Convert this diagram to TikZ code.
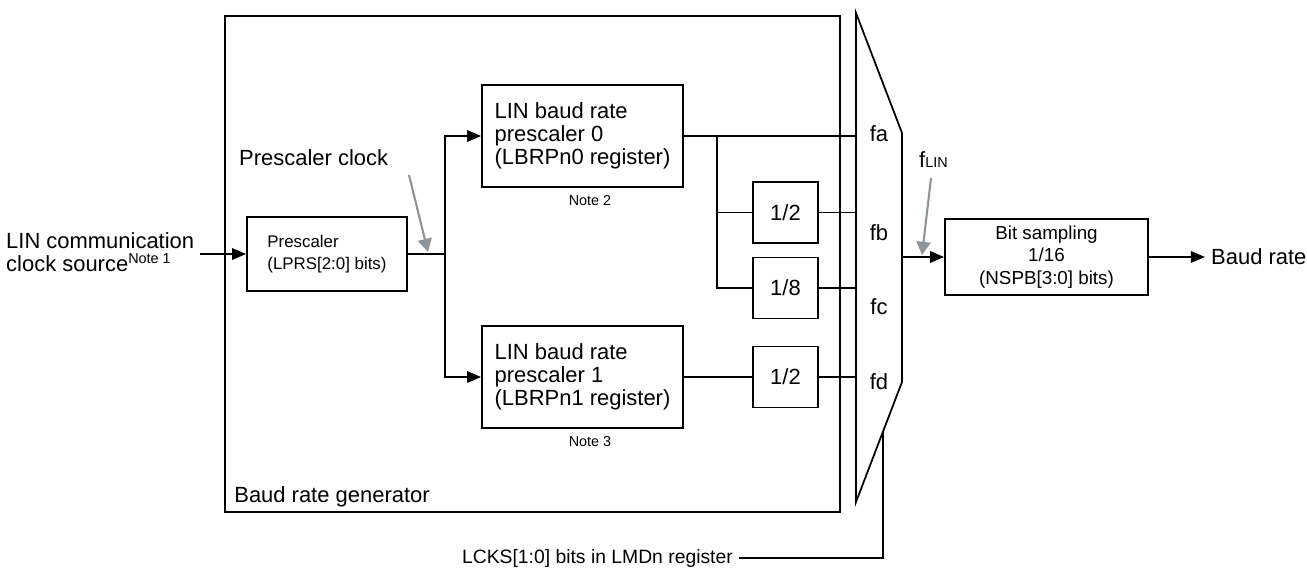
\documentclass[tikz,border=0pt]{standalone}
\usepackage{fontspec}
\setmainfont{Liberation Sans}
\usepackage{tikz}
\usetikzlibrary{arrows.meta, positioning, calc}
\definecolor{clkgray}{RGB}{140,148,156}
\newcommand{\fbig}{\fontsize{12.5}{13.2}\selectfont}
\newcommand{\fmid}{\fontsize{10.7}{13}\selectfont}
\newcommand{\fsmall}{\fontsize{9.6}{12.5}\selectfont}
\newcommand{\fnote}{\fontsize{8.2}{10}\selectfont}
\tikzstyle{block} = [rectangle, draw=black, line width=1pt, align=left, inner sep=0pt, font=\fbig]
\tikzstyle{divbox} = [rectangle, draw=black, line width=1pt, minimum width=1.3cm, minimum height=1.22cm, inner sep=0pt, font=\fbig]
\tikzstyle{wire} = [line width=1pt]
\tikzstyle{arrow} = [line width=1pt, -{Triangle[length=8pt, width=6.5pt]}]
\tikzstyle{hint} = [line width=1.2pt, draw=clkgray, -{Triangle[length=7.5pt, width=8pt]}]
\tikzstyle{note} = [inner sep=1pt, font=\fnote]

\begin{document}
\begin{tikzpicture}[x=0.02cm, y=-0.02cm, every node/.style={font=\fbig}]
  \useasboundingbox (0,0) rectangle (1307,568);

  % Khung bộ tạo baud rate
  \node[draw, line width=1pt, minimum width=12.3cm, minimum height=9.92cm, inner sep=0pt] (gen) at (532.5,264) {};
  \node[anchor=base west, inner sep=0pt] (genlbl) at (234,502) {Baud rate generator};

  % Nguồn clock và bộ chia trước
  \node[anchor=west, align=left] (src) at (0,252) {LIN communication\\clock source\raisebox{4.5pt}{\fnote Note 1}};
  \node[block, minimum width=3.2cm, minimum height=1.48cm, font=\fsmall] (pre) at (327,254) {Prescaler\\(LPRS[2:0] bits)};
  \node[anchor=west] (pclk) at (233,158) {Prescaler clock};

  % Hai bộ chia baud rate
  \node[block, minimum width=4.02cm, minimum height=2.04cm] (lb0) at (582.5,136) {LIN baud rate\\prescaler 0\\(LBRPn0 register)};
  \node[note, below=0.1cm of lb0, xshift=0.15cm] (n2) {Note 2};
  \node[block, minimum width=4.02cm, minimum height=2.04cm] (lb1) at (582.5,377) {LIN baud rate\\prescaler 1\\(LBRPn1 register)};
  \node[note, below=0.1cm of lb1, xshift=0.15cm] (n3) {Note 3};

  % Các bộ chia 1/2, 1/8
  \node[divbox] (d1) at (785.5,212.5) {1/2};
  \node[divbox] (d2) at (785.5,288) {1/8};
  \node[divbox] (d3) at (785.5,377) {1/2};

  % Bộ chọn
  \coordinate (m1) at (856,13);
  \coordinate (m2) at (902,133);
  \coordinate (m3) at (902,382);
  \coordinate (m4) at (856,502);
  \draw[wire] (m1) -- (m2) -- (m3) -- (m4) -- cycle;
  \node (fa) at (879,134) {fa};
  \node (fb) at (879,233) {fb};
  \node (fc) at (879,307) {fc};
  \node (fd) at (879,382) {fd};

  % Lấy mẫu bit và đầu ra
  \node[block, align=center, minimum width=4.06cm, minimum height=1.52cm, font=\fmid] (bit) at (1046.5,257) {Bit sampling\\1/16\\(NSPB[3:0] bits)};
  \node[anchor=west] (out) at (1205,257) {Baud rate};
  \node[anchor=west] (flin) at (913,160) {f{\fnote LIN}};
  \node[anchor=east, font=\fontsize{11}{13}\selectfont] (lcks) at (739,558) {LCKS[1:0] bits in LMDn register};

  % Mũi tên và dây nối
  \draw[arrow] (src.east |- pre.west) -- (pre.west);
  \coordinate (j1) at (445,254);
  \draw[wire] (pre.east) -- (j1);
  \draw[arrow] (j1) |- (lb0.west);
  \draw[arrow] (j1) |- (lb1.west);
  \coordinate (j2) at (717,136);
  \draw[wire] (lb0.east) -- (lb0.east -| m1);
  \draw[wire] (j2) |- (d1.west);
  \draw[wire] (j2) |- (d2.west);
  \draw[wire] (d1.east) -- (d1.east -| m1);
  \draw[wire] (d2.east) -- (d2.east -| m1);
  \draw[wire] (lb1.east) -- (d3.west);
  \draw[wire] (d3.east) -- (d3.east -| m1);
  \coordinate (mo) at (m2 |- bit.west);
  \draw[arrow] (mo) -- (bit.west);
  \draw[arrow] (bit.east) -- (out.west);
  \coordinate (sel) at ($(m3)!0.42!(m4)$);
  \draw[wire] (sel) |- (lcks.east);

  % Mũi tên chú thích (xám)
  \coordinate (pc0) at (409,175);
  \coordinate (pc1) at (428,252);
  \draw[hint] (pc0) -- (pc1);
  \coordinate (fl0) at (931,178);
  \coordinate (fl1) at (922,255);
  \draw[hint] (fl0) -- (fl1);
\end{tikzpicture}
\end{document}
